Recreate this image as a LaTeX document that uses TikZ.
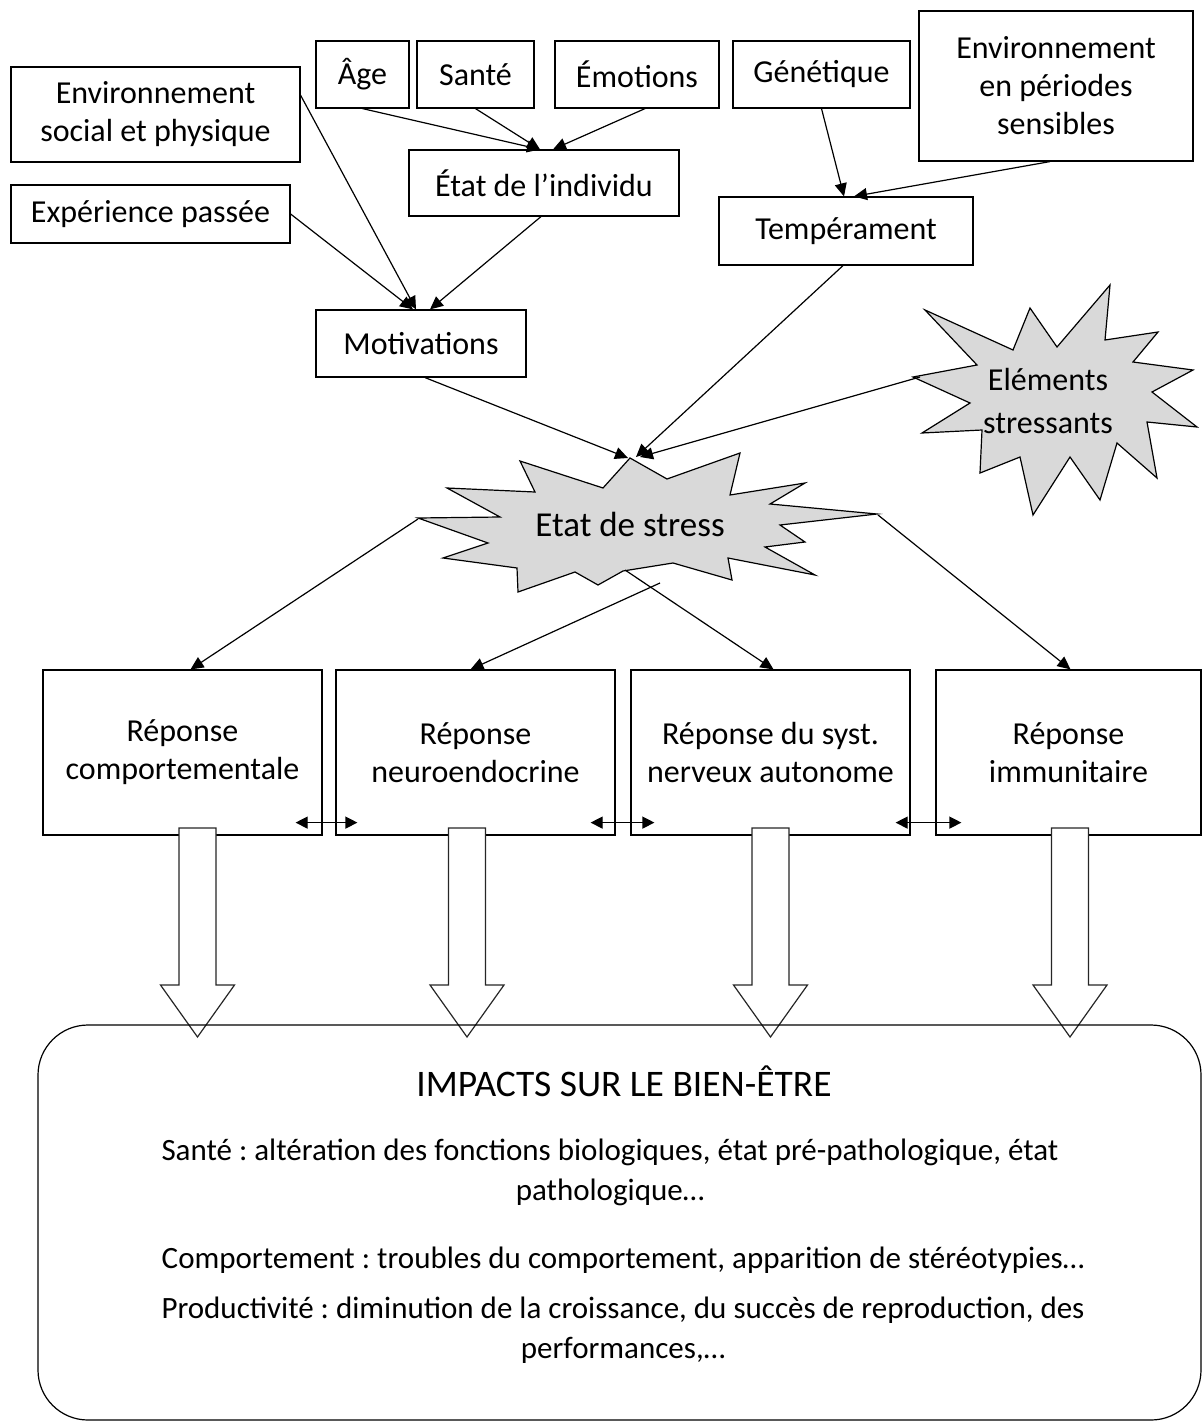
\documentclass[tikz,border=0pt]{standalone}
\usepackage{fontspec}
\setmainfont{Carlito}
\usetikzlibrary{arrows.meta,calc}
\frenchspacing
\begin{document}
\begin{tikzpicture}[x=1pt,y=-1pt,
  box/.style={draw,line width=1.2pt,align=center,inner sep=0pt,font=\fontsize{32}{38}\selectfont},
  lbl/.style={align=center,inner sep=0pt,font=\fontsize{32}{43}\selectfont},
  conn/.style={line width=1.2pt,-{Triangle[length=13pt,width=12pt]}},
  dbl/.style={line width=1.2pt,{Triangle[length=12pt,width=12pt]}-{Triangle[length=12pt,width=12pt]}},
  burst/.style={draw,line width=1.2pt,fill=black!15,line join=miter},
  bigarrow/.style={draw=black!85,line width=1.2pt,fill=white},
  impact/.style={align=center,inner sep=0pt,font=\fontsize{31}{40}\selectfont},
]
\useasboundingbox (0,0) rectangle (1203,1423);

% top boxes
\node[box,minimum width=289pt,minimum height=95pt] (envsoc) at (155.5,114.5) {Environnement\\social et physique};
\node[box,minimum width=279pt,minimum height=58pt] (exp) at (150.5,214) {Expérience passée};
\node[box,minimum width=93pt,minimum height=67pt] (age) at (362.5,74.5) {Âge};
\node[box,minimum width=117pt,minimum height=67pt] (sante) at (475.5,74.5) {Santé};
\node[box,minimum width=164pt,minimum height=67pt] (emo) at (637,74.5) {Émotions};
\node[box,minimum width=270pt,minimum height=66pt] (etat) at (544,183) {État de l’individu};
\node[box,minimum width=177pt,minimum height=67pt] (gen) at (821.5,74.5) {Génétique};
\node[box,minimum width=274pt,minimum height=150pt] (envper) at (1056,86) {Environnement\\en périodes\\sensibles};
\node[box,minimum width=254pt,minimum height=68pt] (temp) at (846,231) {Tempérament};
\node[box,minimum width=210pt,minimum height=67pt] (motiv) at (421,343.5) {Motivations};

% starbursts
\draw[burst] (925,310) -- (1013,350) -- (1030,308) -- (1057,347) -- (1110,285) -- (1105,340)
  -- (1158,332) -- (1133,362) -- (1193,370) -- (1152,392) -- (1197,427) -- (1147,422)
  -- (1157,478) -- (1117,443) -- (1100,500) -- (1070,457) -- (1033,515) -- (1020,457)
  -- (980,473) -- (982,430) -- (922,433) -- (970,403) -- (913,377) -- (977,365) -- cycle;
\node[lbl] (stressors) at (1048,401) {Eléments\\stressants};
\coordinate (stressorsL) at (920,377);

\draw[burst] (630,458) -- (667,479) -- (740,453) -- (730,495) -- (805,483) -- (770,504)
  -- (877,514) -- (780,525) -- (805,542) -- (765,547) -- (815,575) -- (728,558)
  -- (732,580) -- (673,563) -- (623,571) -- (598,585) -- (575,572) -- (518,592)
  -- (517,568) -- (443,558) -- (488,543) -- (418,518) -- (500,517) -- (447,488)
  -- (535,492) -- (520,461) -- (603,488) -- cycle;
\node[inner sep=0pt,font=\fontsize{35}{43}\selectfont] (stress) at (630,524) {Etat de stress};
\coordinate (stressTopA) at (628,458);
\coordinate (stressTopB) at (636,457);
\coordinate (stressTopC) at (640,457);
\coordinate (stressL) at (418,519);
\coordinate (stressR) at (878,515);
\coordinate (stressB1) at (660,583);
\coordinate (stressB2) at (625,570);

% response boxes
\node[box,minimum width=279pt,minimum height=165pt] (r1) at (182.5,752.5) {Réponse\\comportementale};
\node[box,minimum width=279pt,minimum height=165pt] (r2) at (475.5,752.5) {Réponse\\neuroendocrine};
\node[box,minimum width=279pt,minimum height=165pt] (r3) at (770.5,752.5) {Réponse du syst.\\nerveux autonome};
\node[box,minimum width=265pt,minimum height=165pt] (r4) at (1068.5,752.5) {Réponse\\immunitaire};

% connectors top
\draw[conn] (age.south) -- ([xshift=-4pt]etat.north);
\draw[conn] (sante.south) -- ([xshift=-4pt]etat.north);
\draw[conn] ([xshift=8pt]emo.south) -- ([xshift=9pt]etat.north);
\draw[conn] ($(envsoc.north east)!0.3!(envsoc.south east)$) -- ([xshift=-5pt]motiv.north);
\draw[conn] (exp.east) -- ([xshift=-8pt]motiv.north);
\draw[conn] ([xshift=-3pt]etat.south) -- ([xshift=9pt]motiv.north);
\draw[conn] (gen.south) -- ([xshift=-2pt]temp.north);
\draw[conn] ([xshift=-6pt]envper.south) -- ([xshift=8pt]temp.north);
\draw[conn] ([xshift=4pt]motiv.south) -- (stressTopA);
\draw[conn] ([xshift=-3pt]temp.south) -- (stressTopB);
\draw[conn] (stressorsL) -- (stressTopC);

% connectors to responses
\draw[conn] (stressL) -- ([xshift=8pt]r1.north);
\draw[conn] (stressB1) -- ([xshift=-5pt]r2.north);
\draw[conn] (stressB2) -- ([xshift=3pt]r3.north);
\draw[conn] (stressR) -- ([xshift=2pt]r4.north);

% double arrows
\draw[dbl] ($(r1.south east)+(-27,-13)$) -- ($(r2.south west)+(22,-13)$);
\draw[dbl] ($(r2.south east)+(-25,-13)$) -- ($(r3.south west)+(24,-13)$);
\draw[dbl] ($(r3.south east)+(-15,-13)$) -- ($(r4.south west)+(26,-13)$);

% block arrows
\foreach \cx in {197.5,467,770.5,1070}{
  \draw[bigarrow] (\cx-18.5,828) -- (\cx+18.5,828) -- (\cx+18.5,985) -- (\cx+37,985)
    -- (\cx,1037) -- (\cx-37,985) -- (\cx-18.5,985) -- cycle;
}

% impacts box
\draw[line width=1.2pt,rounded corners=50pt] (38,1025) rectangle (1201,1420);
\node[inner sep=0pt,font=\fontsize{37.5}{40}\selectfont] (title) at (624,1081) {IMPACTS SUR LE BIEN-ÊTRE};
\node[impact] (l1) at (610,1172) {Santé : altération des fonctions biologiques, état pré-pathologique, état\\pathologique…};
\node[impact] (l2) at (623,1260) {Comportement : troubles du comportement, apparition de stéréotypies…};
\node[impact] (l3) at (623,1330) {Productivité : diminution de la croissance, du succès de reproduction, des\\performances,…};
\end{tikzpicture}
\end{document}
